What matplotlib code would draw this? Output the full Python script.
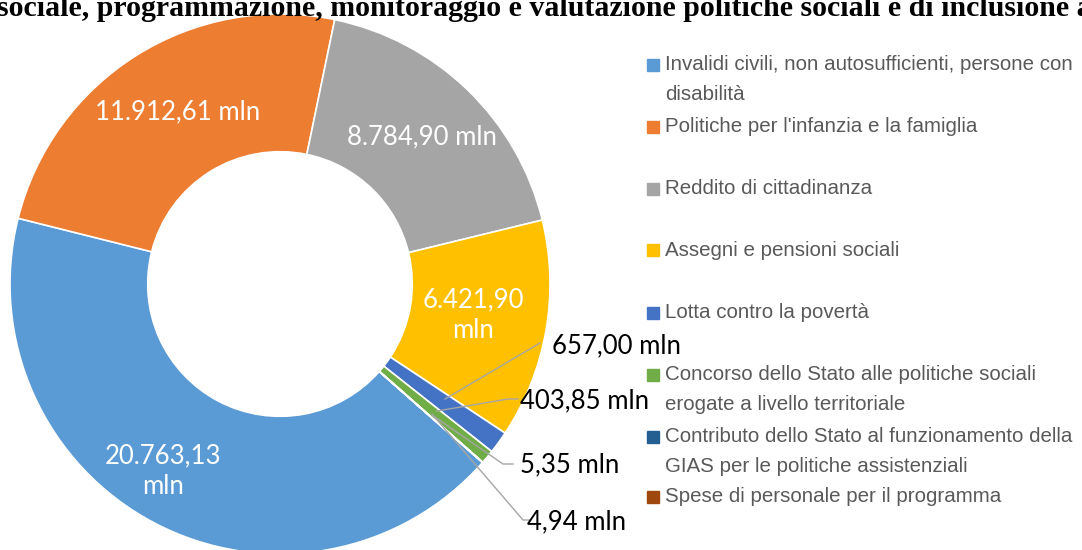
import matplotlib
matplotlib.use('Agg')
import matplotlib.pyplot as plt
from matplotlib.patches import Rectangle

# == Data ===================================================
categories = [
    'Invalidi civili, non autosufficienti, persone con\ndisabilità',
    "Politiche per l'infanzia e la famiglia",
    'Reddito di cittadinanza',
    'Assegni e pensioni sociali',
    'Lotta contro la povertà',
    'Concorso dello Stato alle politiche sociali\nerogate a livello territoriale',
    'Contributo dello Stato al funzionamento della\nGIAS per le politiche assistenziali',
    'Spese di personale per il programma',
]
values = [20763.13, 11912.61, 8784.90, 6421.90, 657.00, 403.85, 5.35, 4.94]
value_labels = ['20.763,13\nmln', '11.912,61 mln', '8.784,90 mln', '6.421,90\nmln',
                '657,00 mln', '403,85 mln', '5,35 mln', '4,94 mln']
colors = ['#5B9BD5', '#ED7D31', '#A5A5A5', '#FFC000',
          '#4472C4', '#70AD47', '#255E91', '#9E480E']
title = ('sociale, programmazione, monitoraggio e valutazione politiche '
         'sociali e di inclusione a')

W, H = 1082, 550


def py(y):
    # pixel row (from top) -> data y
    return H - y


# == Figure =================================================
fig = plt.figure(figsize=(W / 100, H / 100), dpi=100)
ax = fig.add_axes([0, 0, 1, 1])

cx, cy, r = 280, py(284), 270
wedges, _ = ax.pie(values, colors=colors, center=(cx, cy), radius=r,
                   startangle=-41.4, counterclock=False,
                   wedgeprops=dict(width=r * 0.51, edgecolor='white', linewidth=1.2),
                   frame=True)
ax.set_xlim(0, W)
ax.set_ylim(0, H)
ax.axis('off')

# inside labels (white)
lab_font = dict(family=['Lato', 'DejaVu Sans'], fontsize=18.5)
inside = {0: (163, 471), 1: (178, 112), 2: (422, 137), 3: (473, 315)}
for i, (x, y) in inside.items():
    ax.text(x, py(y), value_labels[i], color='white', ha='center', va='center',
            linespacing=1.3, **lab_font)

# outside labels with leader lines
lead = '#A6A6A6'
outside = {
    4: ([(445, 399), (540, 343)], (552, 346)),
    5: ([(437, 411), (508, 399), (518, 399)], (520, 401)),
    6: ([(432, 415), (503, 464), (513, 464)], (520, 465)),
    7: ([(432, 414), (523, 520), (530, 520)], (527, 522)),
}
for i, (pts, (tx, ty)) in outside.items():
    ax.plot([p[0] for p in pts], [py(p[1]) for p in pts], color=lead, lw=1)
    ax.text(tx, py(ty), value_labels[i], color='black', ha='left', va='center',
            **lab_font)

# legend
leg_y = [65, 127, 189, 250, 313, 375, 437, 497]
leg_font = dict(family=['Liberation Sans', 'DejaVu Sans'], fontsize=14.8)
for cat, col, y in zip(categories, colors, leg_y):
    ax.add_patch(Rectangle((647, py(y) - 6), 12, 12, color=col))
    ax.text(665, py(y), cat.split('\n')[0], color='#595959', va='center', **leg_font)
    if '\n' in cat:
        ax.text(665, py(y + 29), cat.split('\n')[1], color='#595959', va='center',
                **leg_font)

# title, cut at the top edge
ax.text(-3, py(16), title, ha='left', va='baseline', fontweight='bold',
        family=['Liberation Serif', 'DejaVu Serif'], fontsize=21.5)

fig.savefig('out.png', dpi=100)
